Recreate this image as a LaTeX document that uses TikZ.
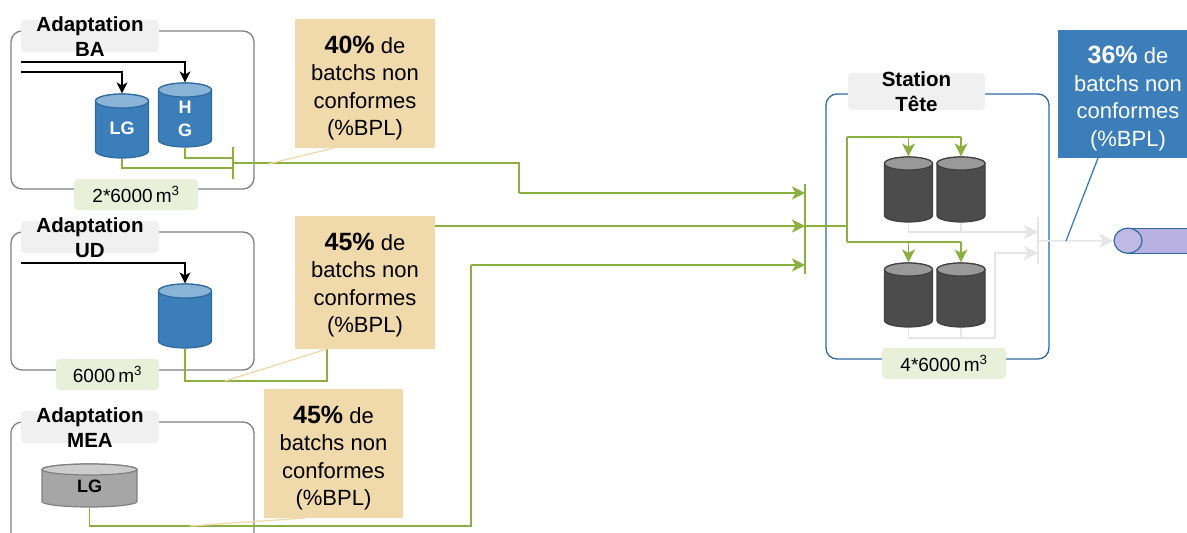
\documentclass[tikz,border=0pt]{standalone}
\usepackage{tikz}
\usepackage{xcolor}
\usepackage{fontspec}
\setmainfont{Liberation Sans}
\usetikzlibrary{shapes.geometric,arrows.meta,positioning,calc}

\definecolor{linegreen}{HTML}{8CB040}
\definecolor{notesand}{HTML}{F0D9AB}
\definecolor{noteblue}{HTML}{3C7EB9}
\definecolor{tankedge}{HTML}{2E6A9E}
\definecolor{tanktop}{HTML}{8AB3D8}
\definecolor{paleline}{HTML}{E6E6E6}
\definecolor{volgreen}{HTML}{E8F0DA}
\definecolor{titlegray}{HTML}{F0F0F0}
\definecolor{pipeviolet}{HTML}{B9B1E2}

% style, end colour, name, centre x, centre y, width, height, end radius, label
\newcommand{\tank}[9]{
    \pgfmathsetmacro{\tankL}{#4-#6/2}
    \pgfmathsetmacro{\tankR}{#4+#6/2}
    \pgfmathsetmacro{\tankT}{#5-#7/2+#8}
    \pgfmathsetmacro{\tankB}{#5+#7/2-#8}
    \pgfmathsetmacro{\tankW}{#6/2}
    \draw[#1] (\tankL,\tankT) -- (\tankL,\tankB) arc[start angle=180, end angle=360, x radius=\tankW pt, y radius=#8 pt] -- (\tankR,\tankT) arc[start angle=0, end angle=180, x radius=\tankW pt, y radius=#8 pt] -- cycle;
    \draw[#1, fill=#2] (#4,\tankT) ellipse[x radius=\tankW pt, y radius=#8 pt];
    \node[#1, draw=none, fill=none, rectangle, minimum width=#6 pt, minimum height=#7 pt, inner sep=0pt, align=center, font=\fontsize{18}{23.5}\selectfont\bfseries] (#3) at (#4,#5) {#9};
}

% strut above the first line, percentage
\newcommand{\batchnote}[2]{\rule{0pt}{#1}\textbf{\fontsize{25}{27.5}\selectfont #2\%} de\\batchs non\\conformes\\(\%BPL)}

\begin{document}
\begin{tikzpicture}[
    x=1pt, y=-1pt,
    frame/.style={rectangle, draw=#1, line width=1.3pt, rounded corners=11pt, inner sep=0pt},
    titlebox/.style={rectangle, fill=titlegray, rounded corners=4pt, minimum width=138pt, minimum height=32pt, inner sep=0pt},
    titletext/.style={align=center, inner sep=0pt, font=\fontsize{20.5}{25}\selectfont\bfseries},
    volbox/.style={rectangle, fill=volgreen, rounded corners=4pt, minimum height=31pt, inner sep=0pt, font=\fontsize{19}{20}\selectfont},
    note/.style={rectangle, fill=notesand, minimum width=140pt, minimum height=130pt, align=center, inner sep=0pt, font=\fontsize{22}{27.5}\selectfont},
    bluetank/.style={draw=tankedge, line width=1.2pt, fill=noteblue, text=white},
    darktank/.style={draw=black!75, line width=1.2pt, fill=black!70},
    greytank/.style={draw=black!50, line width=1.2pt, fill=black!35, text=black},
    feed/.style={draw=black, line width=1.3pt, -{Stealth[length=11pt,width=11pt,inset=3pt]}},
    greenline/.style={draw=linegreen, line width=1.5pt},
    greenarrow/.style={greenline, -{Stealth[length=13pt,width=13pt,inset=3.5pt]}},
    paleline/.style={draw=paleline, line width=1.5pt},
    palearrow/.style={paleline, -{Stealth[length=14pt,width=14pt,inset=3.5pt]}},
    tail/.style={draw=notesand, line width=1.3pt}
]
\clip (0,0) rectangle (1187,533);
\useasboundingbox (0,0) rectangle (1187,533);

% Frames
\node[frame=black!50, minimum width=243pt, minimum height=158pt] (baFrame) at (132.5,110) {};
\node[frame=black!50, minimum width=243pt, minimum height=138pt] (udFrame) at (132.5,301) {};
\node[frame=black!50, minimum width=243pt, minimum height=160pt] (meaFrame) at (132.5,502) {};
\node[frame=tankedge, minimum width=223pt, minimum height=265pt] (stFrame) at (937.5,226.5) {};

% Titles
\node[titlebox] (baBox) at (90,36) {};
\node[titletext] (baTitle) at (90,36.5) {Adaptation\\BA};
\node[titlebox] (udBox) at (90,237) {};
\node[titletext] (udTitle) at (90,237.5) {Adaptation\\UD};
\node[titlebox] (meaBox) at (90,427) {};
\node[titletext] (meaTitle) at (90,427.5) {Adaptation\\MEA};
\node[titlebox, minimum width=137pt, minimum height=37pt] (stBox) at (916.5,91.5) {};
\node[titletext] (stTitle) at (916.5,92) {Station\\Tête};

% Volumes
\node[volbox, minimum width=124pt] (baVol) at (136,194.5) {2*6000\,m\textsuperscript{3}};
\node[volbox, minimum width=103pt] (udVol) at (107.5,374.5) {6000\,m\textsuperscript{3}};
\node[volbox, minimum width=124pt] (stVol) at (944,363.5) {4*6000\,m\textsuperscript{3}};

% Tanks
\tank{bluetank}{tanktop}{baLG}{122}{126}{53}{64}{7}{\rule{0pt}{17pt}LG}
\tank{bluetank}{tanktop}{baHG}{185}{115}{53}{64}{7}{\rule{0pt}{20pt}H\\G}
\tank{bluetank}{tanktop}{udTank}{185}{316}{53}{64}{7}{}
\tank{greytank}{black!20}{meaLG}{89.5}{485.5}{95}{43}{5.5}{\rule{0pt}{15pt}LG}
\tank{darktank}{black!40}{stA}{908.5}{189.5}{48}{65}{6.5}{}
\tank{darktank}{black!40}{stB}{961}{189.5}{48}{65}{6.5}{}
\tank{darktank}{black!40}{stC}{908.5}{295}{48}{64}{6.5}{}
\tank{darktank}{black!40}{stD}{961}{295}{48}{64}{6.5}{}

% Pipe
\draw[tankedge, line width=1.2pt, fill=pipeviolet] (1128,228.2) rectangle (1200,253.2);
\node[ellipse, draw=tankedge, line width=1.2pt, fill=pipeviolet!90!white, minimum width=28pt, minimum height=25pt, inner sep=0pt] (pipeEnd) at (1128,240.7) {};

% Free ends and bars
\coordinate (baInA) at (21,62);
\coordinate (baInB) at (21,72);
\coordinate (udIn) at (21,263);
\coordinate (baBarTop) at (233,147);
\coordinate (baBarBot) at (233,179);
\coordinate (mergeTop) at (805,184);
\coordinate (mergeBot) at (805,274);
\coordinate (outTop) at (1038,217);
\coordinate (outBot) at (1038,264);

% Callout tails
\coordinate (baTail) at (268,164);
\coordinate (udTail) at (225,381);
\coordinate (meaTail) at (190,526);
\coordinate (outTail) at (1066,241);

% Feed lines
\draw[feed] (baInA) -| (baHG.north);
\draw[feed] (baInB) -| (baLG.north);
\draw[feed] (udIn) -| (udTank.north);

% Green lines
\draw[greenline] (baLG.south) |- (baBarTop |- 0,168);
\draw[greenline] (baHG.south) |- (baBarTop |- 0,158);
\draw[greenline] (baBarTop) -- (baBarBot);
\draw[greenline] (udTank.south) |- (327,381) -- (327,349);
\draw[greenline] (meaLG.south) |- (471,526) -- (471,265);
\draw[greenline] (233,163) -- (519,163) -- (519,193);
\draw[greenarrow] (519,193) -- (mergeTop |- 0,193);
\draw[greenarrow] (435,226) -- (mergeTop |- 0,226);
\draw[greenarrow] (471,265) -- (mergeTop |- 0,265);
\draw[greenline] (mergeTop) -- (mergeBot);
\draw[greenline] (mergeTop |- 0,226) -- (847,226);
\draw[greenline] (847,137) -- (847,242);
\draw[greenline] (847,137) -- (stD.north |- 0,137);
\draw[greenarrow] (stA.north |- 0,137) -- (stA.north);
\draw[greenarrow] (stB.north |- 0,137) -- (stB.north);
\draw[greenline] (847,242) -- (stD.north |- 0,242);
\draw[greenarrow] (stC.north |- 0,242) -- (stC.north);
\draw[greenarrow] (stD.north |- 0,242) -- (stD.north);

% Pale lines
\draw[paleline] (stA.south) |- (stB.south |- 0,232);
\draw[paleline] (stB.south) -- (stB.south |- 0,232);
\draw[palearrow] (stB.south |- 0,232) -- (outTop |- 0,232);
\draw[paleline] (stC.south) |- (995,338);
\draw[paleline] (stD.south) -- (stD.south |- 0,338);
\draw[palearrow] (995,338) |- (outTop |- 0,253);
\draw[paleline] (outTop) -- (outBot);
\draw[palearrow] (outTop |- 0,241) -- (pipeEnd.west);

% Tails
\draw[tail] (334,148) -- (baTail);
\draw[tail] (327,349) -- (udTail);
\draw[tail] (305,518) -- (meaTail);
\draw[draw=noteblue, line width=1.3pt] (1098,158) -- (outTail);

% Notes
\node[note, minimum height=129pt] (baNote) at (365,83.5) {\batchnote{26.5pt}{40}};
\node[note, minimum height=133pt] (udNote) at (365,282.5) {\batchnote{23pt}{45}};
\node[note, minimum width=139pt, minimum height=129pt] (meaNote) at (333.5,453.5) {\batchnote{27pt}{45}};
\node[note, fill=noteblue, text=white, minimum height=128pt] (outNote) at (1128,94) {\batchnote{26.5pt}{36}};

\end{tikzpicture}
\end{document}
